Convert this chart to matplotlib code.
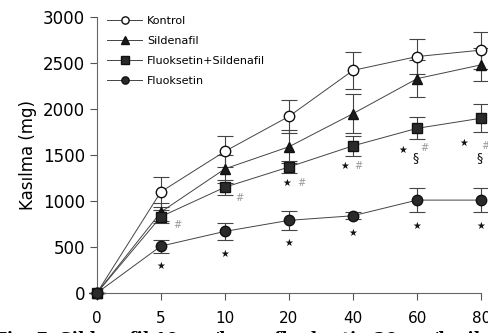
import numpy as np
import matplotlib.pyplot as plt

# Time points (categorical x axis)
doses = ['0', '5', '10', '20', '40', '60', '80']

kontrol = [0, 1100, 1540, 1920, 2420, 2570, 2640]
kontrol_err = [0, 160, 170, 180, 200, 190, 200]
sildenafil = [0, 880, 1350, 1590, 1950, 2330, 2480]
sildenafil_err = [0, 100, 150, 180, 210, 200, 180]
fluok_sild = [0, 830, 1150, 1370, 1600, 1790, 1900]
fluok_sild_err = [0, 70, 80, 70, 110, 120, 150]
fluoksetin = [0, 510, 670, 790, 840, 1010, 1010]
fluoksetin_err = [0, 70, 90, 100, 40, 130, 130]

# significance marks: (x index, y value)
star_marks = [(2.97, 1196), (3.875, 1380), (4.78, 1554), (5.72, 1630)]
hash_marks = [(1.25, 739), (2.23, 1033), (3.2, 1196), (4.08, 1380), (5.11, 1576), (6.06, 1600)]
sect_marks = [(4.98, 1478), (5.97, 1478)]

x = np.arange(len(doses))

fig = plt.figure(figsize=(4.89, 3.33), dpi=100)
ax = fig.add_axes([0.198, 0.12, 0.786, 0.829])

series = [
    (kontrol, kontrol_err, 'o', 'white', 'Kontrol'),
    (sildenafil, sildenafil_err, '^', '#1a1a1a', 'Sildenafil'),
    (fluok_sild, fluok_sild_err, 's', '#2a2a2a', 'Fluoksetin+Sildenafil'),
    (fluoksetin, fluoksetin_err, 'o', '#2a2a2a', 'Fluoksetin'),
]
for vals, err, mk, fc, lab in series:
    ax.errorbar(x, vals, yerr=err, fmt='none', ecolor='#444444', capsize=6,
                elinewidth=0.8, capthick=0.8, clip_on=False, zorder=2)
    ax.plot(x, vals, color='#444444', lw=0.7, marker=mk, mfc=fc, mec='#111111',
            mew=1.0, ms=7.5, label=lab, clip_on=False, zorder=3)

for i in range(1, len(doses)):
    ax.annotate('★', (x[i], fluoksetin[i] - fluoksetin_err[i]), xytext=(0, -10),
                textcoords='offset points', ha='center', va='center',
                fontsize=7, color='#111111')
for xi, yv in star_marks:
    ax.text(xi, yv, '★', ha='center', va='center', fontsize=7, color='#111111')
for xi, yv in hash_marks:
    ax.text(xi, yv, '#', ha='center', va='center', fontsize=7, color='#999999')
for xi, yv in sect_marks:
    ax.text(xi, yv, '§', ha='center', va='center', fontsize=9, color='#111111')

ax.set_xlim(0, 6)
ax.set_ylim(0, 3000)
ax.set_xticks(x)
ax.set_xticklabels(doses, fontsize=11)
ax.set_yticks(np.arange(0, 3001, 500))
ax.tick_params(axis='y', labelsize=12, length=5, color='#555555')
ax.tick_params(axis='x', length=5, color='#555555', pad=8)
for s in ['top', 'right']:
    ax.spines[s].set_visible(False)
for s in ['left', 'bottom']:
    ax.spines[s].set_color('#666666')
ax.set_ylabel('Kasılma (mg)', fontsize=12, labelpad=4)

ax.legend(loc='upper left', bbox_to_anchor=(0.0, 1.04), frameon=False, fontsize=8,
          handlelength=3.2, labelspacing=0.9, markerscale=0.7, handletextpad=0.4)

fig.text(-0.01, -0.045, 'Fig. 7. Sildenafil 10 mg/kg ve fluoksetin 20 mg/kg ile kombine',
         family='DejaVu Serif', fontsize=12, weight='bold', va='bottom')

fig.savefig('out.png', dpi=100)
